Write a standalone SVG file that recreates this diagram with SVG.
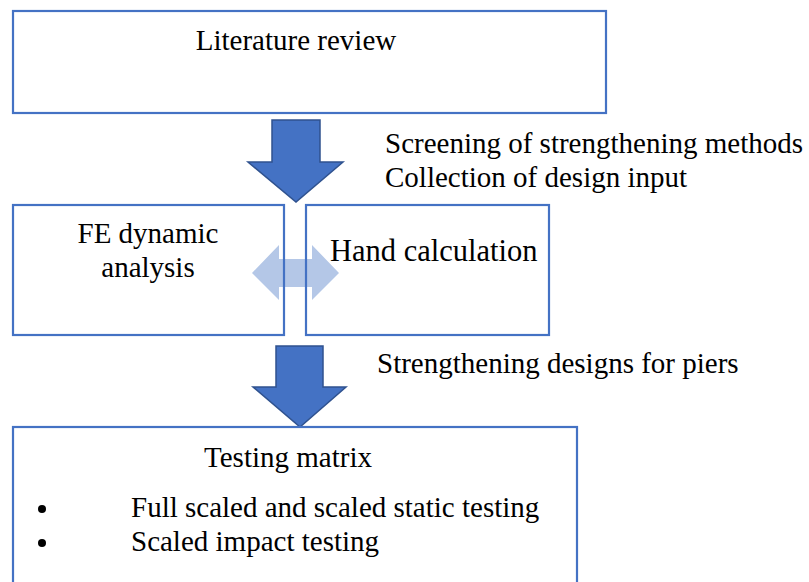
<svg xmlns="http://www.w3.org/2000/svg" width="809" height="582" viewBox="0 0 809 582">
  <defs>
    <style>
      .box { fill: none; stroke: #4472C4; stroke-width: 2.2; }
      .flow { fill: #4472C4; stroke: #2F528F; stroke-width: 1.5; stroke-linejoin: miter; }
      .swap { fill: #B4C7E7; stroke: none; }
      text { font-family: "Liberation Serif", "Times New Roman", serif; font-size: 29px; fill: #000; }
      .mid { text-anchor: middle; }
    </style>
  </defs>
  <rect width="809" height="582" fill="#fff"/>

  <!-- two-way link between the analysis boxes, drawn beneath their outlines -->
  <g id="connectors">
    <polygon class="swap" points="252,273 279,245 279,259 312,259 312,245 339,273 312,300 312,287 279,287 279,300"/>
    <polygon class="flow" points="272,120 320,120 320,162 343,162 296,202 248,162 272,162"/>
    <polygon class="flow" points="276,346 323,346 323,387 346,387 300,427 253,387 276,387"/>
  </g>

  <g id="literature-review">
    <rect class="box" x="13" y="11" width="593" height="102"/>
    <text class="mid" x="296" y="50">Literature review</text>
  </g>

  <g id="screening-label">
    <text x="385" y="153">Screening of strengthening methods</text>
    <text x="385" y="187">Collection of design input</text>
  </g>

  <g id="fe-analysis">
    <rect class="box" x="13" y="205" width="271" height="130"/>
    <text class="mid" x="148" y="243">FE dynamic</text>
    <text class="mid" x="148" y="277">analysis</text>
  </g>

  <g id="hand-calculation">
    <rect class="box" x="306" y="205" width="243" height="130"/>
    <text x="330" y="261" style="font-size:30.5px">Hand calculation</text>
  </g>

  <g id="designs-label">
    <text x="377" y="373">Strengthening designs for piers</text>
  </g>

  <g id="testing-matrix">
    <rect class="box" x="13" y="427" width="564" height="170"/>
    <text class="mid" x="288" y="467">Testing matrix</text>
    <circle cx="42" cy="509" r="4" fill="#000"/>
    <text x="131" y="517">Full scaled and scaled static testing</text>
    <circle cx="42" cy="543" r="4" fill="#000"/>
    <text x="131" y="551">Scaled impact testing</text>
  </g>
</svg>
